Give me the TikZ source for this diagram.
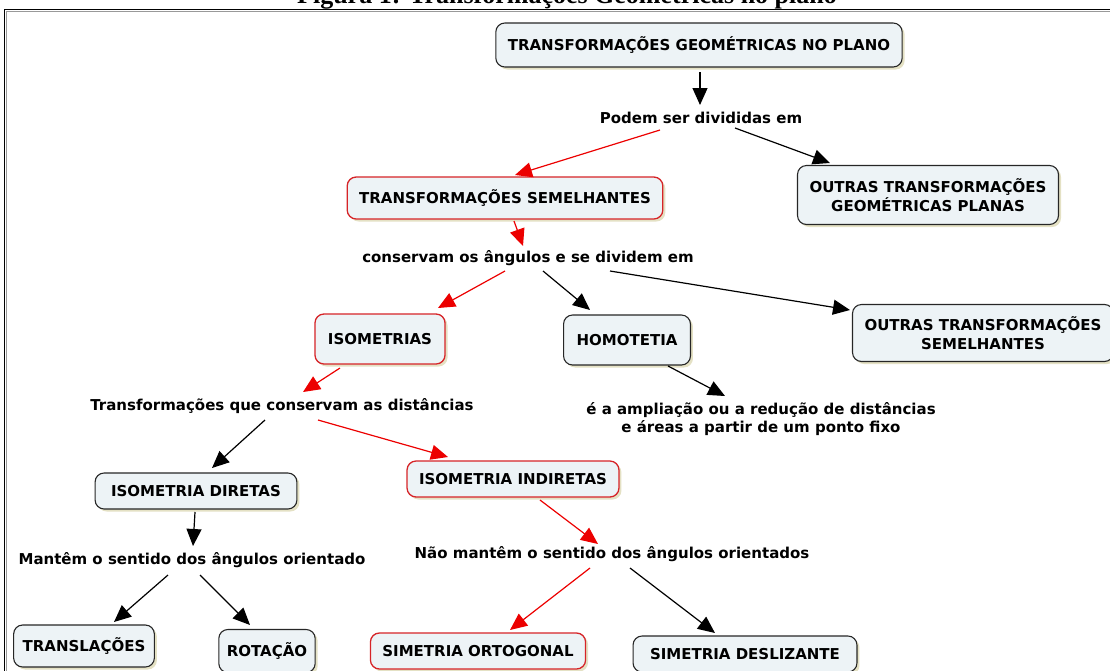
\documentclass[tikz,border=0pt]{standalone}
\usepackage{fontspec}
\setmainfont{DejaVu Sans}
\newfontfamily\legendafont{Liberation Serif}
\usepackage{tikz}
\usetikzlibrary{positioning, arrows.meta, shadows}
\usepackage{xcolor}

\definecolor{caixa}{RGB}{237,243,246}
\definecolor{sombra}{RGB}{228,225,196}
\definecolor{bordav}{RGB}{214,36,40}
\definecolor{setav}{RGB}{236,0,0}

\tikzset{
  conceito/.style={rectangle, rounded corners=9pt, draw=black!85, line width=1.1pt,
    fill=caixa, align=center, inner xsep=12pt,
    font=\fontsize{15}{19}\selectfont\bfseries,
    drop shadow={shadow xshift=2.5pt, shadow yshift=-2.5pt, fill=sombra, opacity=1}},
  destaque/.style={conceito, draw=bordav, line width=1.3pt},
  ligacao/.style={align=center, inner sep=1pt, font=\fontsize{15}{18}\selectfont\bfseries},
  seta/.style={line width=1.2pt, draw=black, -{Triangle[length=17pt,width=15pt]}},
  setavermelha/.style={seta, draw=setav, color=setav},
}

\begin{document}
\begin{tikzpicture}[x=1pt, y=-1pt]
\useasboundingbox (0,0) rectangle (1110,670);
\clip (0,0) rectangle (1110,670);

% legenda cortada e moldura
\node[font=\legendafont\bfseries\fontsize{26}{30}\selectfont, anchor=base] (legenda) at (567,3) {Figura 1: Transformações Geométricas no plano};
\draw[line width=1.6pt] (4.5,690) |- (1130,9.5);
\draw[line width=0.8pt, black!40] (6.5,690) |- (1130,11.5);

% conceitos
\node[conceito, minimum height=44pt] (tgp) at (699,45) {TRANSFORMAÇÕES GEOMÉTRICAS NO PLANO};
\node[ligacao] (pode) at (701,118) {Podem ser divididas em};
\node[destaque, minimum height=42pt] (ts) at (505,198) {TRANSFORMAÇÕES SEMELHANTES};
\node[conceito, minimum height=59pt] (otgp) at (928,195) {OUTRAS TRANSFORMAÇÕES\\GEOMÉTRICAS PLANAS};
\node[ligacao] (cons) at (528,258) {conservam os ângulos e se dividem em};

\node[destaque, minimum height=50pt, inner xsep=13pt] (iso) at (380,339) {ISOMETRIAS};
\node[conceito, minimum height=50pt, inner xsep=13pt] (hom) at (627,340) {HOMOTETIA};
\node[conceito, minimum height=57pt] (ots) at (983,333) {OUTRAS TRANSFORMAÇÕES\\SEMELHANTES};

\node[ligacao] (dist) at (282,406) {Transformações que conservam as distâncias};
\node[ligacao] (ampl) at (761,419) {é a ampliação ou a redução de distâncias\\e áreas a partir de um ponto fixo};

\node[conceito, minimum height=36pt, inner xsep=16pt] (idir) at (196,491) {ISOMETRIA DIRETAS};
\node[destaque, minimum height=36pt] (iind) at (513,479) {ISOMETRIA INDIRETAS};
\node[ligacao] (mant) at (192,560) {Mantêm o sentido dos ângulos orientado};
\node[ligacao] (nmant) at (612,554) {Não mantêm o sentido dos ângulos orientados};

\node[conceito, minimum height=42pt, inner xsep=9pt] (trl) at (84,646) {TRANSLAÇÕES};
\node[conceito, minimum height=43pt, inner xsep=8pt] (rot) at (267,651) {ROTAÇÃO};
\node[destaque, minimum height=36pt] (sorto) at (478,651) {SIMETRIA ORTOGONAL};
\node[conceito, minimum height=36pt, inner xsep=17pt] (sdesl) at (745,654) {SIMETRIA DESLIZANTE};

% ligacoes
\draw[seta] ([xshift=1pt, yshift=-27pt]tgp.center) -- ([xshift=-1pt, yshift=13pt]pode.center);
\draw[setavermelha] ([xshift=-41pt, yshift=-12pt]pode.center) -- ([xshift=10pt, yshift=23pt]ts.center);
\draw[seta] ([xshift=34pt, yshift=-10pt]pode.center) -- ([xshift=-98pt, yshift=32pt]otgp.center);
\draw[setavermelha] ([xshift=9pt, yshift=-23pt]ts.center) -- ([xshift=-5pt, yshift=12pt]cons.center);
\draw[setavermelha] ([xshift=-23pt, yshift=-13pt]cons.center) -- ([xshift=58pt, yshift=31pt]iso.center);
\draw[seta] ([xshift=15pt, yshift=-13pt]cons.center) -- ([xshift=-37pt, yshift=30pt]hom.center);
\draw[seta] ([xshift=82pt, yshift=-13pt]cons.center) -- ([xshift=-133pt, yshift=23pt]ots.center);
\draw[setavermelha] ([xshift=-40pt, yshift=-29pt]iso.center) -- ([xshift=21pt, yshift=14pt]dist.center);
\draw[seta] ([xshift=41pt, yshift=-26pt]hom.center) -- ([xshift=-36pt, yshift=23pt]ampl.center);
\draw[seta] ([xshift=-17pt, yshift=-14pt]dist.center) -- ([xshift=16pt, yshift=23pt]idir.center);
\draw[setavermelha] ([xshift=36pt, yshift=-14pt]dist.center) -- ([xshift=-65pt, yshift=22pt]iind.center);
\draw[seta] ([xshift=-1pt, yshift=-21pt]idir.center) -- ([xshift=1pt, yshift=14pt]mant.center);
\draw[setavermelha] ([xshift=27pt, yshift=-21pt]iind.center) -- ([xshift=-14pt, yshift=10pt]nmant.center);
\draw[seta] ([xshift=-24pt, yshift=-15pt]mant.center) -- ([xshift=30pt, yshift=24pt]trl.center);
\draw[seta] ([xshift=8pt, yshift=-15pt]mant.center) -- ([xshift=-17pt, yshift=26pt]rot.center);
\draw[setavermelha] ([xshift=-22pt, yshift=-14pt]nmant.center) -- ([xshift=32pt, yshift=21pt]sorto.center);
\draw[seta] ([xshift=18pt, yshift=-14pt]nmant.center) -- ([xshift=-30pt, yshift=21pt]sdesl.center);

\end{tikzpicture}
\end{document}
